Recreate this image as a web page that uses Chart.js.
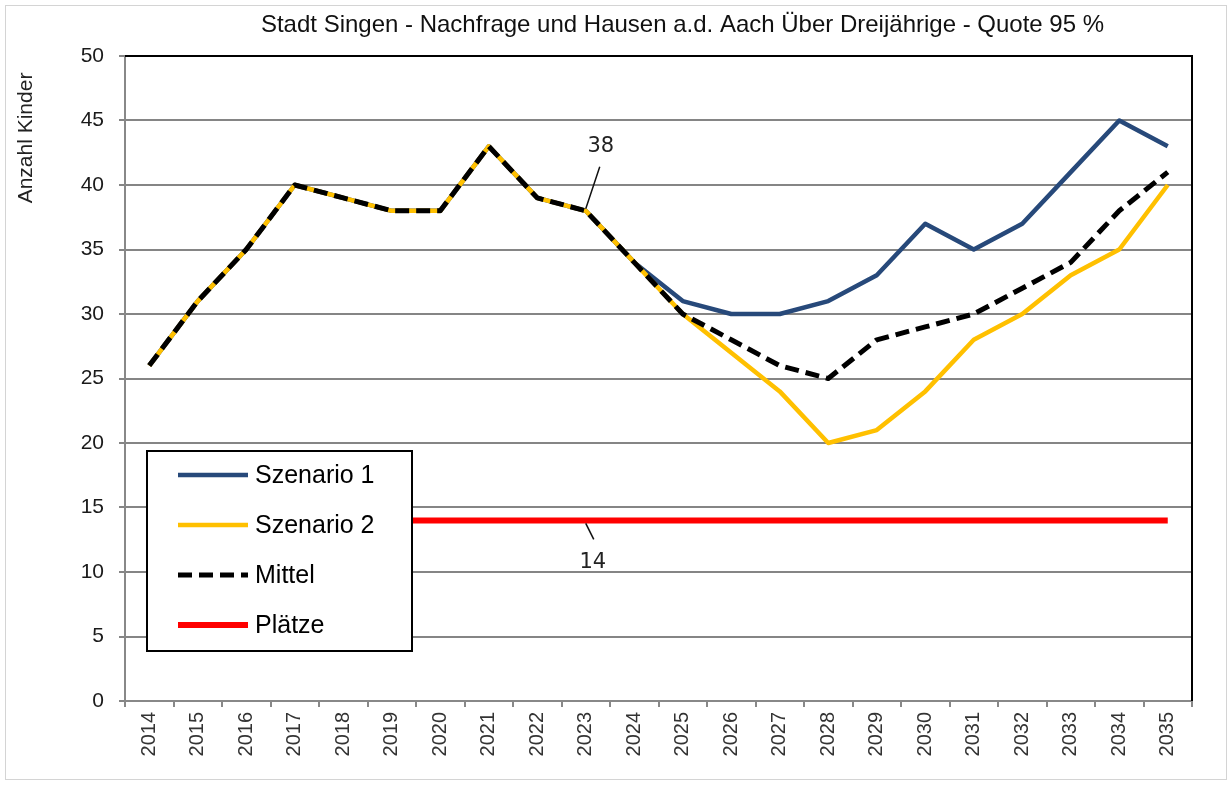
<!DOCTYPE html>
<html>
<head>
<meta charset="utf-8">
<script src="https://cdn.jsdelivr.net/npm/chart.js@4/dist/chart.umd.min.js"></script>
<style>
  html, body { margin: 0; padding: 0; background: #fff; }
  #wrap { width: 1232px; height: 785px; position: relative; }
</style>
</head>
<body>
<div id="wrap"><canvas id="chart" width="1232" height="785"></canvas></div>
<script>
"use strict";

const years = ["2014", "2015", "2016", "2017", "2018", "2019", "2020", "2021", "2022", "2023", "2024",
               "2025", "2026", "2027", "2028", "2029", "2030", "2031", "2032", "2033", "2034", "2035"];
const szenario1 = [26, 31, 35, 40, 39, 38, 38, 43, 39, 38, 34, 31, 30, 30, 31, 33, 37, 35, 37, 41, 45, 43];
const szenario2 = [26, 31, 35, 40, 39, 38, 38, 43, 39, 38, 34, 30, 27, 24, 20, 21, 24, 28, 30, 33, 35, 40];
const mittel    = [26, 31, 35, 40, 39, 38, 38, 43, 39, 38, 34, 30, 28, 26, 25, 28, 29, 30, 32, 34, 38, 41];
const plaetze   = [14, 14, 14, 14, 14, 14, 14, 14, 14, 14, 14, 14, 14, 14, 14, 14, 14, 14, 14, 14, 14, 14];
const labelIndex = 9; // 2023, where the data labels sit

const TITLE = "Stadt Singen - Nachfrage und Hausen a.d. Aach Über Dreijährige - Quote 95 %";
const Y_TITLE = "Anzahl Kinder";
const FONT = "'Liberation Sans', Arial, sans-serif";

// frame, titles, plot border, data labels and the boxed legend
const decor = {
  id: "decor",
  beforeDraw(chart) {
    const ctx = chart.ctx;
    ctx.save();
    ctx.fillStyle = "#fff";
    ctx.fillRect(0, 0, chart.width, chart.height);
    ctx.strokeStyle = "#d4d4d4";
    ctx.lineWidth = 1;
    ctx.strokeRect(5.5, 5.5, chart.width - 11, chart.height - 11);
    ctx.restore();
  },
  afterDatasetsDraw(chart) {
    const ctx = chart.ctx;
    const a = chart.chartArea;
    const x = chart.scales.x;
    const y = chart.scales.y;
    ctx.save();

    // top + right border of the plot area
    ctx.strokeStyle = "#000";
    ctx.lineWidth = 2;
    ctx.beginPath();
    ctx.moveTo(a.left, a.top);
    ctx.lineTo(a.right, a.top);
    ctx.lineTo(a.right, a.bottom);
    ctx.stroke();

    // title
    ctx.fillStyle = "#111";
    ctx.font = "24px " + FONT;
    ctx.textAlign = "center";
    ctx.textBaseline = "middle";
    ctx.fillText(TITLE, (a.left + a.right) / 2 + 24, 25);

    // y axis title
    ctx.save();
    ctx.translate(26, 138);
    ctx.rotate(-Math.PI / 2);
    ctx.font = "21px " + FONT;
    ctx.fillStyle = "#222";
    ctx.fillText(Y_TITLE, 0, 0);
    ctx.restore();

    // data labels with leader lines
    ctx.strokeStyle = "#111";
    ctx.lineWidth = 1.5;
    ctx.font = "21px 'DejaVu Sans', sans-serif";
    ctx.fillStyle = "#222";
    let px = x.getPixelForValue(labelIndex);
    let py = y.getPixelForValue(mittel[labelIndex]);
    ctx.beginPath();
    ctx.moveTo(px, py - 2);
    ctx.lineTo(px + 14, py - 44);
    ctx.stroke();
    ctx.fillText(String(mittel[labelIndex]), px + 15, py - 64);

    py = y.getPixelForValue(plaetze[labelIndex]);
    ctx.beginPath();
    ctx.moveTo(px, py + 3);
    ctx.lineTo(px + 8, py + 19);
    ctx.stroke();
    ctx.fillText(String(plaetze[labelIndex]), px + 7, py + 42);

    // legend box
    const lx = a.left + 22, ly = a.top + 395, lw = 265, lh = 200;
    ctx.fillStyle = "#fff";
    ctx.fillRect(lx, ly, lw, lh);
    ctx.strokeStyle = "#000";
    ctx.lineWidth = 2;
    ctx.strokeRect(lx, ly, lw, lh);
    ctx.font = "25px " + FONT;
    ctx.textAlign = "left";
    chart.data.datasets.forEach((ds, i) => {
      const rowY = ly + 24 + i * 50;
      ctx.strokeStyle = ds.borderColor;
      ctx.lineWidth = ds.borderWidth;
      ctx.setLineDash(ds.borderDash || []);
      ctx.beginPath();
      ctx.moveTo(lx + 31, rowY);
      ctx.lineTo(lx + 101, rowY);
      ctx.stroke();
      ctx.setLineDash([]);
      ctx.fillStyle = "#000";
      ctx.fillText(ds.label, lx + 108, rowY + 1);
    });
    ctx.restore();
  }
};

new Chart(document.getElementById("chart"), {
  type: "line",
  data: {
    labels: years,
    datasets: [
      { label: "Szenario 1", data: szenario1, borderColor: "#27497a", borderWidth: 4.5, order: 3 },
      { label: "Szenario 2", data: szenario2, borderColor: "#ffc000", borderWidth: 4.5, order: 2 },
      { label: "Mittel", data: mittel, borderColor: "#000", borderWidth: 5, borderDash: [14, 7], order: 1 },
      { label: "Plätze", data: plaetze, borderColor: "#ff0000", borderWidth: 6, order: 4 }
    ]
  },
  options: {
    responsive: false,
    animation: false,
    layout: { padding: { left: 0, right: 40, top: 56, bottom: 0 } },
    elements: {
      point: { radius: 0, hoverRadius: 0 },
      line: { tension: 0, fill: false, borderCapStyle: "butt", borderJoinStyle: "round" }
    },
    scales: {
      x: {
        offset: true,
        grid: { offset: true, drawOnChartArea: false, drawTicks: true, tickLength: 6, color: "#888", lineWidth: 2 },
        border: { color: "#888", width: 2 },
        ticks: {
          autoSkip: false, minRotation: 90, maxRotation: 90, padding: 5,
          color: "#333", font: { family: FONT, size: 20 }
        },
        afterFit(scale) { scale.height = 84; }
      },
      y: {
        min: 0,
        max: 50,
        grid: { color: "#858585", lineWidth: 2, tickLength: 6 },
        border: { color: "#888", width: 2 },
        ticks: { stepSize: 5, padding: 15, color: "#1a1a1a", font: { family: FONT, size: 21 } },
        afterFit(scale) { scale.width = 125; }
      }
    },
    plugins: {
      legend: { display: false },
      title: { display: false },
      tooltip: { enabled: false }
    }
  },
  plugins: [decor]
});
</script>
</body>
</html>
